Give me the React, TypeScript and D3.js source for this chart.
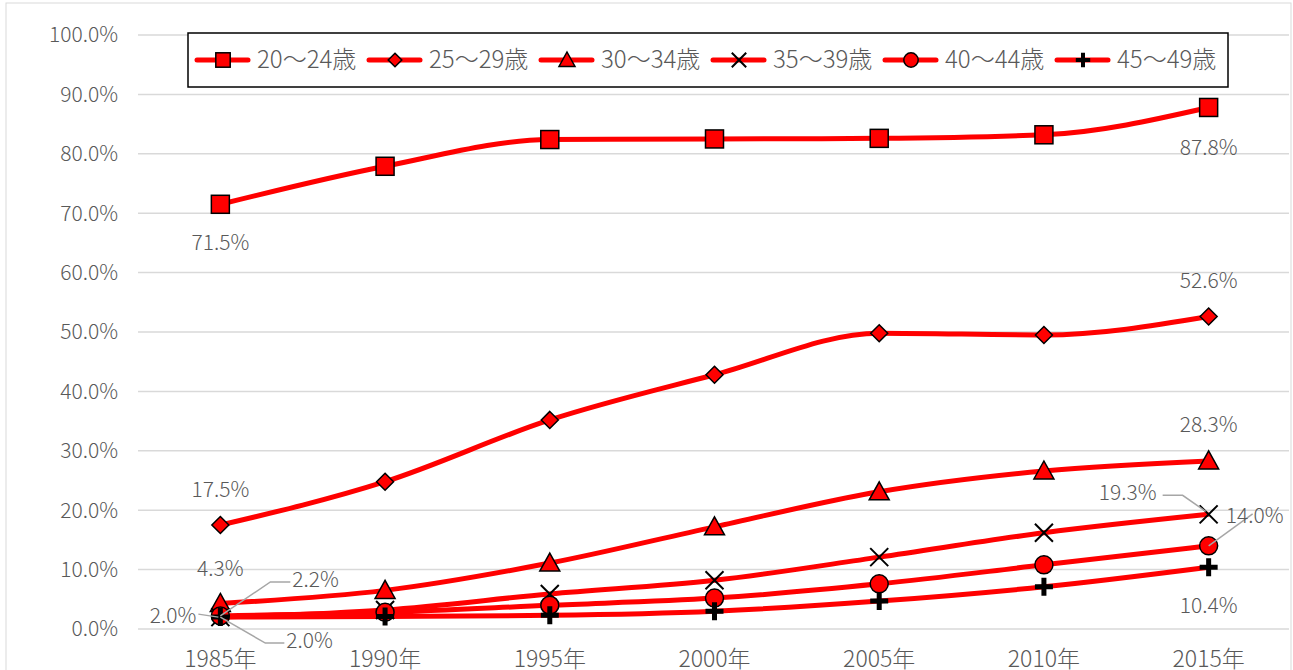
import React from "react";
import * as d3 from "d3";

const years = ["1985年", "1990年", "1995年", "2000年", "2005年", "2010年", "2015年"];
const seriesNames = ["20～24歳", "25～29歳", "30～34歳", "35～39歳", "40～44歳", "45～49歳"];
const markerTypes = ["square", "diamond", "triangle", "cross", "circle", "plus"];

const age20 = [71.5, 77.9, 82.4, 82.5, 82.6, 83.2, 87.8];
const age25 = [17.5, 24.8, 35.2, 42.8, 49.8, 49.5, 52.6];
const age30 = [4.3, 6.5, 11.1, 17.2, 23.1, 26.6, 28.3];
const age35 = [2.0, 3.2, 5.9, 8.2, 12.1, 16.2, 19.3];
const age40 = [2.2, 2.8, 4.0, 5.2, 7.6, 10.8, 14.0];
const age45 = [2.0, 2.1, 2.3, 3.0, 4.7, 7.1, 10.4];
const seriesValues = [age20, age25, age30, age35, age40, age45];

const yTicks = [0, 10, 20, 30, 40, 50, 60, 70, 80, 90, 100];

const width = 1293;
const height = 670;
const margin = { top: 35, right: 2, bottom: 41, left: 138 };
const font = "'Noto Sans CJK JP', 'Noto Sans', sans-serif";
const textColor = "#595959";
const red = "#ff0000";

const Marker = ({ type, x, y, s = 1 }: { type: string; x: number; y: number; s?: number }) => {
  const k = (v: number) => v * s;
  switch (type) {
    case "square":
      return <rect x={x - k(9)} y={y - k(9)} width={k(18)} height={k(18)} fill={red} stroke="#000" strokeWidth={1.5} />;
    case "diamond":
      return (
        <path
          d={`M${x},${y - k(8.5)}L${x + k(8.5)},${y}L${x},${y + k(8.5)}L${x - k(8.5)},${y}Z`}
          fill={red}
          stroke="#000"
          strokeWidth={1.5}
        />
      );
    case "triangle":
      return (
        <path
          d={`M${x},${y - k(10)}L${x + k(10)},${y + k(8)}L${x - k(10)},${y + k(8)}Z`}
          fill={red}
          stroke="#000"
          strokeWidth={1.5}
        />
      );
    case "cross":
      return (
        <path
          d={`M${x - k(9)},${y - k(9)}L${x + k(9)},${y + k(9)}M${x + k(9)},${y - k(9)}L${x - k(9)},${y + k(9)}`}
          stroke="#000"
          strokeWidth={2}
        />
      );
    case "circle":
      return <circle cx={x} cy={y} r={k(9)} fill={red} stroke="#000" strokeWidth={1.5} />;
    default:
      return (
        <path
          d={`M${x - k(9)},${y}L${x + k(9)},${y}M${x},${y - k(9)}L${x},${y + k(9)}`}
          stroke="#000"
          strokeWidth={k(5)}
        />
      );
  }
};

// label offsets (dx, dy, anchor, leader) for first and last point of each series
const labelSpecs = [
  [{ i: 0, dx: 0, dy: 38, a: "middle" }, { i: 6, dx: 0, dy: 40, a: "middle" }],
  [{ i: 0, dx: 0, dy: -35, a: "middle" }, { i: 6, dx: 0, dy: -36, a: "middle" }],
  [{ i: 0, dx: 0, dy: -35, a: "middle" }, { i: 6, dx: 0, dy: -36, a: "middle" }],
  [
    { i: 0, dx: -24, dy: -1, a: "end", leader: [[-2, 0], [-22, -3]] },
    { i: 6, dx: -52, dy: -22, a: "end", leader: [[-3, -3], [-26, -19], [-46, -19]] },
  ],
  [
    { i: 0, dx: 72, dy: -36, a: "start", leader: [[0, 0], [50, -34], [70, -34]] },
    { i: 6, dx: 46, dy: -30, a: "middle", leader: [[0, 0], [44, -32]] },
  ],
  [
    { i: 0, dx: 66, dy: 24, a: "start", leader: [[0, 0], [45, 26], [64, 26]] },
    { i: 6, dx: 0, dy: 38, a: "middle" },
  ],
];

const App = () => {
  const x = d3
    .scaleBand<string>()
    .domain(years)
    .range([margin.left, width - margin.right]);
  const y = d3
    .scaleLinear()
    .domain([0, 100])
    .range([height - margin.bottom, margin.top]);
  const cx = (i: number) => (x(years[i]) as number) + x.bandwidth() / 2;

  const line = d3
    .line<number>()
    .x((_, i) => cx(i))
    .y((d) => y(d))
    .curve(d3.curveMonotoneX);

  const legendX = 188;
  const legendY = 33;
  const legendW = 1040;
  const legendH = 54;
  const itemW = 172;

  return (
    <svg
      width={width}
      height={height}
      style={{ position: "absolute", left: 0, top: 0, background: "#fff" }}
      fontFamily={font}
      fontWeight={300}
    >
      <rect x={6} y={3} width={1285} height={700} fill="#fff" stroke="#d9d9d9" strokeWidth={1} />
      {yTicks.map((t) => (
        <g key={t}>
          <line x1={margin.left} x2={width - margin.right - 2} y1={y(t)} y2={y(t)} stroke="#d9d9d9" strokeWidth={1.5} />
          <text x={118} y={y(t)} dy="0.35em" textAnchor="end" fontSize={21} fill={textColor}>
            {t.toFixed(1)}%
          </text>
        </g>
      ))}
      {years.map((yr, i) => (
        <text key={yr} x={cx(i)} y={667} textAnchor="middle" fontSize={23} fill={textColor}>
          {yr}
        </text>
      ))}
      {seriesValues.map((vals, si) => (
        <path key={si} d={line(vals) ?? ""} fill="none" stroke={red} strokeWidth={5} strokeLinejoin="round" />
      ))}
      {seriesValues.map((vals, si) =>
        vals.map((v, i) => <Marker key={`${si}-${i}`} type={markerTypes[si]} x={cx(i)} y={y(v)} />)
      )}
      {labelSpecs.map((specs, si) =>
        specs.map((sp: any) => {
          const px = cx(sp.i);
          const py = y(seriesValues[si][sp.i]);
          return (
            <g key={`${si}-${sp.i}`}>
              {sp.leader && (
                <polyline
                  points={sp.leader.map((p: number[]) => `${px + p[0]},${py + p[1]}`).join(" ")}
                  fill="none"
                  stroke="#a6a6a6"
                  strokeWidth={1.5}
                />
              )}
              <text
                x={px + sp.dx}
                y={py + sp.dy}
                dy="0.35em"
                textAnchor={sp.a}
                fontSize={21}
                fill={textColor}
              >
                {seriesValues[si][sp.i].toFixed(1)}%
              </text>
            </g>
          );
        })
      )}
      <rect x={legendX} y={legendY} width={legendW} height={legendH} fill="#fff" stroke="#000" strokeWidth={1.5} />
      {seriesNames.map((name, i) => {
        const lx = legendX + 9 + i * itemW;
        const ly = legendY + legendH / 2;
        return (
          <g key={name}>
            <line x1={lx} x2={lx + 51} y1={ly} y2={ly} stroke={red} strokeWidth={5} strokeLinecap="round" />
            <Marker type={markerTypes[i]} x={lx + 26} y={ly} s={0.8} />
            <text x={lx + 60} y={ly} dy="0.35em" fontSize={24} fill={textColor}>
              {name}
            </text>
          </g>
        );
      })}
    </svg>
  );
};

export default App;
